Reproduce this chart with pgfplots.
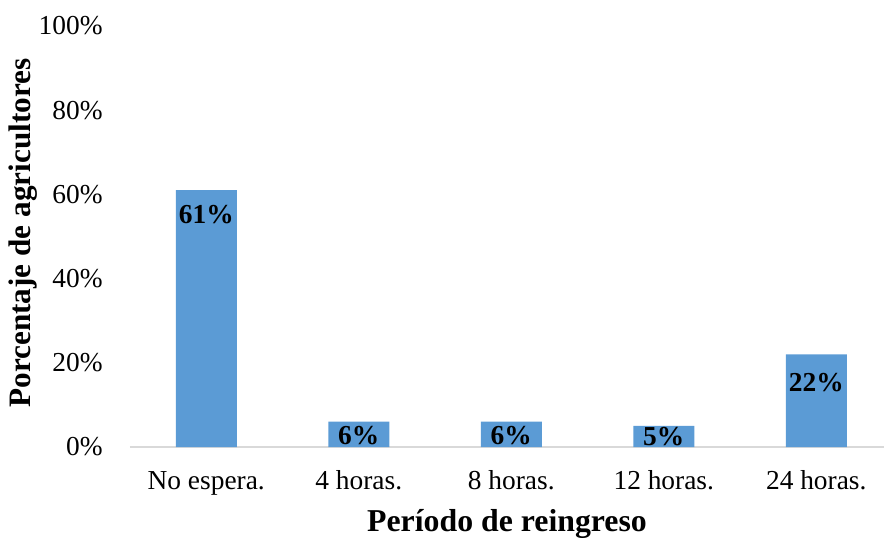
\documentclass[border=0pt]{standalone}
\usepackage{fontspec}
\setmainfont{Liberation Serif}
\usepackage{pgfplots}
\usepackage{pgfplotstable}
\pgfplotsset{compat=1.18}
\definecolor{barblue}{HTML}{5B9BD5}
\definecolor{axgray}{HTML}{D9D9D9}
\pgfplotstableread{
x v ly
0 61 55.3
1 6 2.7
2 6 2.7
3 5 2.4
4 22 15.2
}\datatab
\begin{document}
\begin{tikzpicture}
\begin{axis}[
  at={(0,0)}, anchor=south west,
  scale only axis,
  width=377pt, height=210.5pt,
  xmin=-0.5, xmax=4.444,
  ymin=0, ymax=100,
  xtick={0,1,2,3,4},
  xticklabels={No espera., 4 horas., 8 horas., 12 horas., 24 horas.},
  ytick={0,20,40,60,80,100},
  yticklabels={0\%,20\%,40\%,60\%,80\%,100\%},
  /pgf/number format/assume math mode=true,
  major tick length=0pt,
  axis x line=bottom, axis y line=left,
  x axis line style={-, draw=axgray, line width=1pt},
  y axis line style={draw=none},
  tick label style={font=\fontsize{13.7}{16}\selectfont},
  yticklabel style={anchor=east, inner sep=0pt, xshift=-13.5pt},
  xticklabel style={anchor=base, inner sep=0pt, yshift=-21pt},
  xlabel={Período de reingreso},
  ylabel={Porcentaje de agricultores},
  every axis x label/.style={at={(rel axis cs:0.5,0)}, yshift=-42pt, anchor=base, font=\fontsize{15.9}{18}\selectfont\bfseries},
  every axis y label/.style={at={(rel axis cs:0,0.508)}, xshift=-53.5pt, anchor=center, rotate=90, font=\fontsize{15.6}{18}\selectfont\bfseries},
  clip=false,
]
\addplot[ybar, bar width=30.5pt, fill=barblue, draw=none] table[x=x, y=v] {\datatab};
\addplot[draw=none, mark=none, nodes near coords={\pgfmathprintnumber{\pgfplotspointmeta}\%},
  point meta=explicit, nodes near coords style={anchor=center, inner sep=0pt, font=\fontsize{13.7}{16}\selectfont\bfseries}]
  table[x=x, y=ly, meta=v] {\datatab};
\end{axis}
\pgfresetboundingbox
\useasboundingbox (-65pt,-45pt) rectangle (377pt,223.5pt);
\end{tikzpicture}
\end{document}
